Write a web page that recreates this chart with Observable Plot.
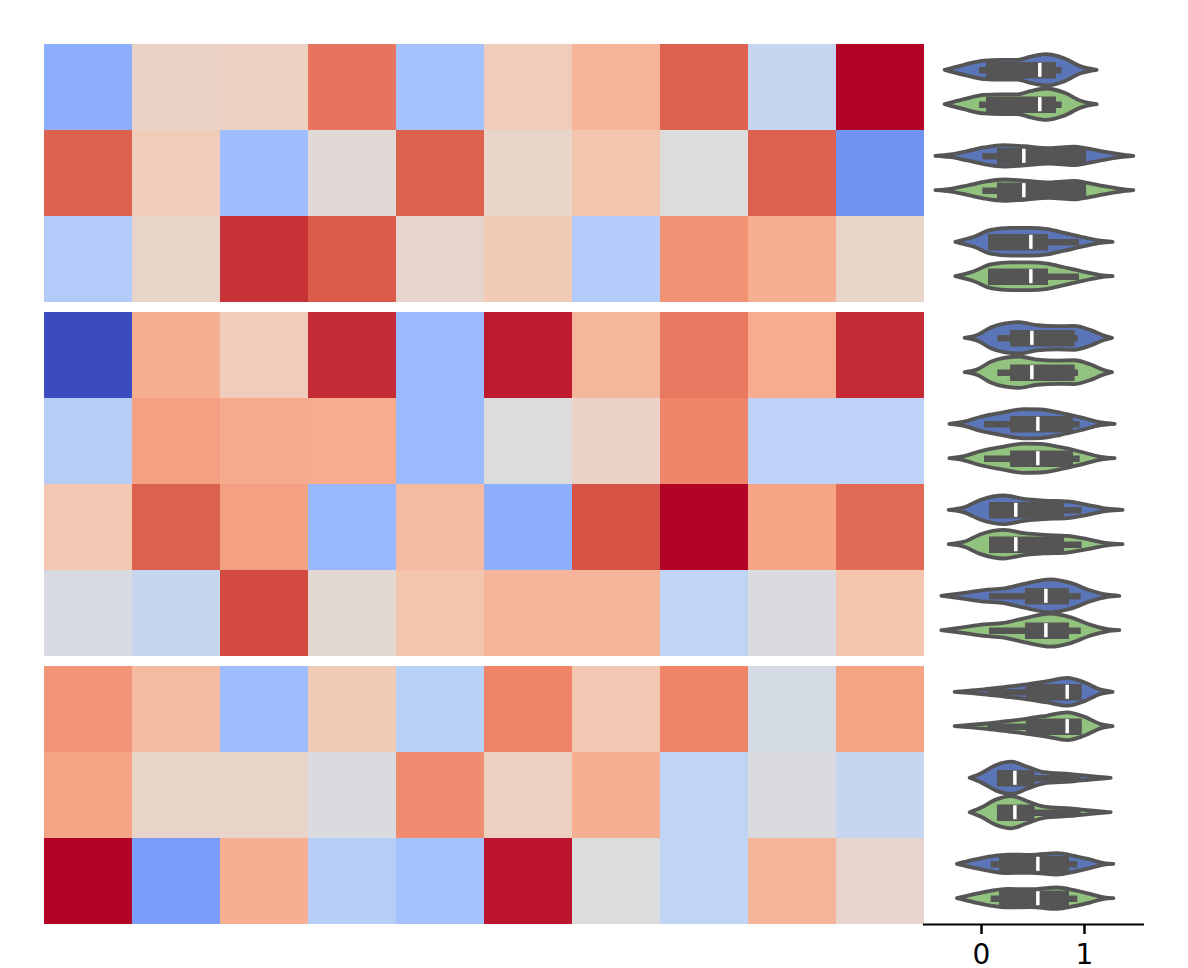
<!DOCTYPE html>
<html><head><meta charset="utf-8">
<style>html,body{margin:0;padding:0;background:#fff}#chart{position:relative;width:1188px;height:968px;overflow:hidden}#chart svg{position:absolute;top:0;background:transparent}</style>
<script src="https://cdn.jsdelivr.net/npm/d3@7"></script>
<script src="https://cdn.jsdelivr.net/npm/@observablehq/plot@0.6"></script>
</head><body><div id="chart"></div>
<script>
const rowGroup = [0,0,0,1,1,1,1,2,2,2];
const groupGap = 10/86;
const heatRows = [
 [.255,.56,.57,.83,.32,.59,.67,.87,.42,1.0],
 [.87,.59,.30,.52,.87,.55,.62,.50,.87,.17],
 [.36,.55,.94,.88,.54,.60,.365,.765,.69,.55],
 [0,.69,.59,.95,.29,.97,.665,.825,.70,.95],
 [.37,.73,.705,.70,.29,.50,.56,.80,.39,.39],
 [.61,.87,.73,.28,.65,.25,.90,1.0,.72,.85],
 [.48,.425,.91,.53,.62,.67,.67,.40,.49,.62],
 [.76,.65,.30,.60,.38,.80,.61,.80,.47,.72],
 [.72,.55,.55,.485,.78,.57,.69,.40,.49,.42],
 [1.0,.195,.69,.37,.32,.98,.50,.40,.67,.54]
];
const coolwarmStops = [0,.1,.2,.3,.4,.5,.6,.7,.8,.9,1];
const coolwarmColors = ["#3b4cc0","#5977e3","#7b9ff9","#9ebeff","#c0d4f5","#dddcdc","#f2cbb7","#f7ac8e","#ee8468","#d65244","#b40426"];

const violinX = [
 [-.353,-.165,.029,.191,.353,.482,.628,.806,.968,1.123],
 [-.443,-.294,-.133,.029,.223,.417,.660,.903,1.032,1.194,1.356,1.479],
 [-.249,-.068,.094,.288,.482,.644,.806,1.0,1.162,1.278],
 [-.159,-.036,.094,.223,.369,.547,.741,.903,1.065,1.194,1.272],
 [-.307,-.165,-.003,.191,.417,.579,.773,.968,1.162,1.298],
 [-.314,-.165,-.003,.223,.417,.612,.838,1.032,1.227,1.375],
 [-.385,-.197,.029,.223,.417,.676,.871,1.065,1.227,1.343],
 [-.256,.029,.223,.417,.644,.838,1.0,1.162,1.278],
 [-.110,-.003,.142,.294,.449,.612,.871,1.065,1.259],
 [-.233,-.068,.094,.256,.482,.741,.903,1.065,1.194,1.285]
];
const violinD = [
 [0,.32,.59,.63,.63,.84,1.0,.74,.22,0],
 [0,.09,.30,.53,.68,.61,.49,.59,.47,.26,.09,0],
 [0,.32,.76,.885,.885,.80,.57,.28,.07,0],
 [0,.18,.66,.91,1.0,.80,.74,.76,.49,.14,0],
 [0,.135,.45,.70,.93,.91,.70,.41,.09,0],
 [0,.16,.635,.91,.70,.59,.53,.32,.07,0],
 [0,.16,.365,.47,.76,1.05,.82,.34,.07,0],
 [0,.156,.30,.45,.68,.885,.61,.135,0],
 [0,.28,.80,1.03,.70,.36,.24,.11,0],
 [0,.26,.47,.59,.57,.68,.51,.26,.05,0]
];
const boxLow  = [.049,.155,.068,.282,.282,.078,.427,.434,.155,.175];
const boxHigh = [.728,1.02,.65,.909,.893,.806,.854,.977,.52,.854];
const whiskLow  = [-.019,.013,.068,.159,.029,.078,.078,.061,.155,.094];
const whiskHigh = [.783,1.02,.951,.942,.958,.977,.968,.977,.968,.935];
const medians = [.566,.411,.479,.489,.547,.333,.625,.832,.324,.547];
const seriesOffset = [-.2,.2];
const seriesColors = ["#5b75b9","#92c37e"];
const xTicks = [0,1];

const rowCount = heatRows.length;
const rowsTotal = rowCount + 2*groupGap;
const yDomain = [0, rowsTotal];
const rowTop = i => i + rowGroup[i]*groupGap;
const inkColor = "#555555";
const densityScale = 15.7/86;

const cells = heatRows.flatMap((vals,r)=>vals.map((v,c)=>({c,r,v})));
const heat = Plot.plot({
  width:924,height:968,marginLeft:44,marginRight:0,marginTop:44,marginBottom:44,
  x:{domain:[0,10],axis:null},
  y:{domain:yDomain,reverse:true,axis:null},
  color:{type:"linear",domain:coolwarmStops,range:coolwarmColors,interpolate:"rgb"},
  marks:[Plot.rect(cells,{x1:d=>d.c,x2:d=>d.c+1,y1:d=>rowTop(d.r),y2:d=>rowTop(d.r)+1,fill:"v"})]
});

const seriesIdx = [0,1];
const center = (r,s) => rowTop(r)+.5+seriesOffset[s];
const violinMarks = seriesIdx.flatMap(s=>{
  const pts = violinX.flatMap((xs,r)=>xs.map((x,i)=>({r,x,y1:center(r,s)-violinD[r][i]*densityScale,y2:center(r,s)+violinD[r][i]*densityScale})));
  const rows = d3.range(rowCount);
  return [
    Plot.areaY(pts,{x:"x",y1:"y1",y2:"y2",z:"r",fill:seriesColors[s],stroke:inkColor,strokeWidth:3.8,strokeLinejoin:"round",strokeLinecap:"round",curve:"monotone-x"}),
    Plot.ruleY(rows,{y:r=>center(r,s),x1:r=>whiskLow[r],x2:r=>whiskHigh[r],stroke:inkColor,strokeWidth:6.5}),
    Plot.ruleY(rows,{y:r=>center(r,s),x1:r=>boxLow[r],x2:r=>boxHigh[r],stroke:inkColor,strokeWidth:16.5}),
    Plot.ruleX(rows,{x:r=>medians[r],y1:r=>center(r,s)-.082,y2:r=>center(r,s)+.082,stroke:"#ffffff",strokeWidth:3.5})
  ];
});
const viol = Plot.plot({
  width:265,height:968,marginLeft:0,marginRight:44,marginTop:44,marginBottom:44,
  style:{fontFamily:"DejaVu Sans",background:"transparent",overflow:"visible"},
  x:{domain:[(923-981)/103,(1144-981)/103]},
  y:{domain:yDomain,reverse:true,axis:null},
  marks:[
    ...violinMarks,
    Plot.ruleY([rowsTotal],{stroke:"#000",strokeWidth:2}),
    Plot.axisX({ticks:xTicks,tickFormat:d=>String(d),tickSize:10,tickPadding:10,fontSize:28,strokeWidth:2.5,stroke:"#000",fill:"#000",label:null})
  ]
});
viol.style.left="923px";
heat.style.left="0px";
const chart=document.getElementById("chart");
chart.append(heat,viol);
</script></body></html>
